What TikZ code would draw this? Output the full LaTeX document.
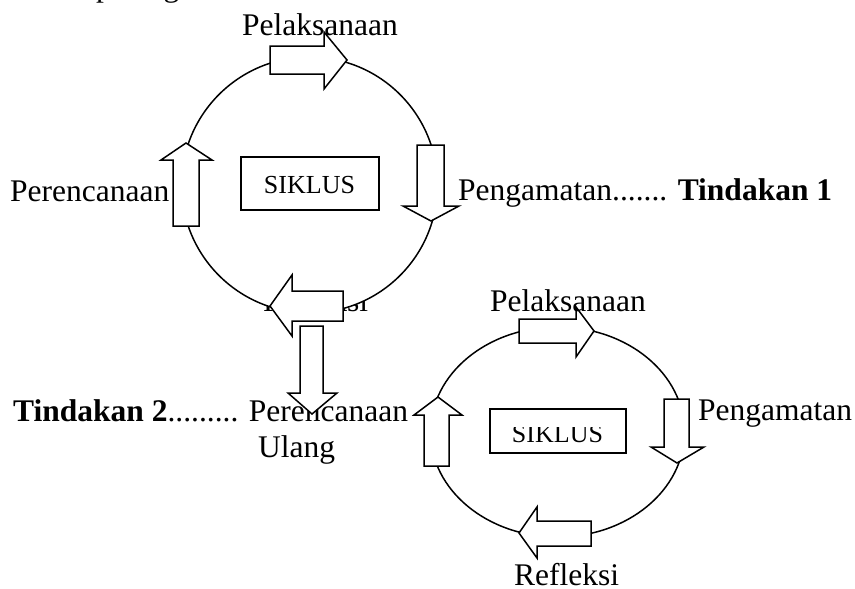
\documentclass[tikz,border=0pt]{standalone}
\usepackage{fontspec}
\setmainfont{Liberation Serif}
\usetikzlibrary{shapes.geometric}
\begin{document}
\begin{tikzpicture}[x=1pt,y=-1pt,
  lbl/.style={inner sep=0pt, anchor=base west, font=\fontsize{31.5}{36}\selectfont},
  small/.style={inner sep=0pt, anchor=base, font=\fontsize{26}{30}\selectfont},
  blk/.style={draw=black, fill=white, line width=1.5pt, line join=miter},
  ring/.style={draw=black, fill=white, line width=1.5pt, inner sep=0pt},
  box/.style={draw=black, line width=1.5pt, inner sep=0pt}]
\useasboundingbox (0,0) rectangle (855,589);
% texts lying under other shapes
\node[lbl] (toptext) at (96,-3) {pada gambar};
\node[lbl] (ref1) at (263,311) {Refleksi};
\node[lbl] (tin2) at (13,421) {\textbf{Tindakan 2}......... Perencanaan};
\node[lbl] (ulang) at (258,457) {Ulang};
% cycles
\node[ring, circle, minimum size=256pt] (c1) at (309.5,185) {};
\node[ring, ellipse, minimum width=254pt, minimum height=210pt] (c2) at (557.5,432) {};
% block arrows, cycle 1
\draw[blk] (270,46) -- (324,46) -- (324,32) -- (347,60) -- (324,89) -- (324,74) -- (270,74) -- cycle;
\draw[blk] (417,145) -- (444,145) -- (444,206) -- (459,206) -- (431,221) -- (403,206) -- (417,206) -- cycle;
\draw[blk] (343,291) -- (343,321) -- (292,321) -- (292,336) -- (270,306) -- (292,275) -- (292,291) -- cycle;
\draw[blk] (173,226) -- (173,160) -- (161,160) -- (186,143) -- (212,160) -- (199,160) -- (199,226) -- cycle;
% link arrow
\draw[blk] (300,326) -- (323,326) -- (323,393) -- (337,393) -- (312,414) -- (288,393) -- (300,393) -- cycle;
% block arrows, cycle 2
\draw[blk] (519,319) -- (576,319) -- (576,307) -- (594,331) -- (576,357) -- (576,343) -- (519,343) -- cycle;
\draw[blk] (664,399) -- (689,399) -- (689,447) -- (704,447) -- (677,463) -- (651,447) -- (664,447) -- cycle;
\draw[blk] (591,521) -- (591,546) -- (537,546) -- (537,558) -- (519,533) -- (537,507) -- (537,521) -- cycle;
\draw[blk] (424,466) -- (424,415) -- (414,415) -- (438,397) -- (462,415) -- (449,415) -- (449,466) -- cycle;
% SIKLUS boxes
\node[box, minimum width=138pt, minimum height=53pt] (b1) at (310,183.5) {};
\node[small] (s1) at (309.5,193) {SIKLUS};
\node[box, minimum width=136pt, minimum height=44pt] (b2) at (558,431) {};
\begin{scope}
\clip (490,427) rectangle (626,453);
\node[small] (s2) at (557.5,442) {SIKLUS};
\end{scope}
% labels
\node[lbl] (pel1) at (242,35) {Pelaksanaan};
\node[lbl] (per1) at (10,201) {Perencanaan};
\node[lbl] (pen1) at (458,200) {Pengamatan....... \textbf{Tindakan 1}};
\node[lbl] (pel2) at (490,311) {Pelaksanaan};
\node[lbl] (pen2) at (698,420) {Pengamatan};
\node[lbl] (ref2) at (514,585) {Refleksi};
\end{tikzpicture}
\end{document}
